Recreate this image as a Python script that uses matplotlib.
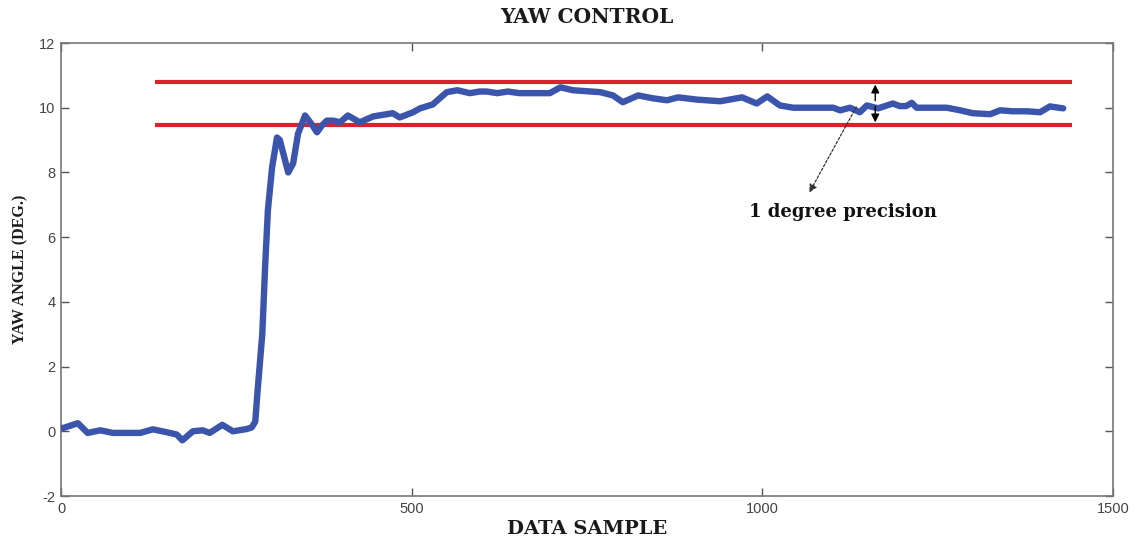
import matplotlib
matplotlib.use("Agg")
import matplotlib.pyplot as plt

plt.rcParams["axes.unicode_minus"] = False

# Data
sample = [0, 3, 24, 38, 56, 74, 113, 131, 151, 165, 173, 188, 202, 212, 230, 245, 265, 272, 277, 280,
          287, 291, 295, 301, 308, 312, 324, 331, 338, 348, 357, 365, 372, 379, 388, 398, 409, 426, 445, 473,
          483, 502, 512, 530, 550, 565, 583, 597, 607, 622, 637, 654, 697, 712, 730, 769, 787, 801, 823, 844,
          864, 880, 907, 940, 971, 992, 1007, 1025, 1044, 1101, 1111, 1125, 1139, 1149, 1165, 1186, 1196, 1205,
          1213, 1220, 1235, 1263, 1282, 1300, 1325, 1339, 1357, 1377, 1396, 1410, 1429]
yaw = [0.1, 0.1, 0.25, -0.05, 0.03, -0.05, -0.05, 0.06, -0.03, -0.1, -0.28, 0.0, 0.03, -0.05, 0.2, 0.0, 0.07, 0.12, 0.3, 1.17,
       3.0, 5.07, 6.83, 8.16, 9.08, 9.0, 8.0, 8.28, 9.2, 9.76, 9.5, 9.24, 9.45, 9.6, 9.6, 9.55, 9.76, 9.55, 9.73, 9.83,
       9.7, 9.86, 9.98, 10.1, 10.48, 10.54, 10.45, 10.5, 10.5, 10.45, 10.5, 10.45, 10.45, 10.63, 10.54, 10.48, 10.38, 10.17, 10.38, 10.29,
       10.23, 10.32, 10.25, 10.2, 10.32, 10.13, 10.35, 10.07, 10.0, 10.0, 9.92, 10.0, 9.86, 10.07, 9.98, 10.13, 10.05, 10.05,
       10.15, 10.0, 10.0, 10.0, 9.92, 9.83, 9.8, 9.92, 9.89, 9.89, 9.86, 10.04, 9.98]

band_upper = 10.8
band_lower = 9.46
band_start = 134
band_end = 1441

x_ticks = [0, 500, 1000, 1500]
y_ticks = [-2, 0, 2, 4, 6, 8, 10, 12]

title = "YAW CONTROL"
xlabel = "DATA SAMPLE"
ylabel = "YAW ANGLE (DEG.)"
note = "1 degree precision"
arrow_x = 1161
note_xy = (1115, 6.77)
note_arrow_tail = (1136, 10.1)
note_arrow_head = (1065, 7.3)

fig = plt.figure(figsize=(11.35, 5.4), dpi=100)
ax = fig.add_axes([61 / 1135, 1 - 496 / 540, (1113 - 61) / 1135, (496 - 43) / 540])

ax.plot(sample, yaw, color="#3a55ab", linewidth=4.6, solid_capstyle="round", solid_joinstyle="round", zorder=3)
ax.hlines([band_upper, band_lower], band_start, band_end, colors="#d8232a", linewidth=3.0, zorder=2)

# double-headed arrow between the band lines
mid = (band_upper + band_lower) / 2
ax.annotate("", xy=(arrow_x, band_upper), xytext=(arrow_x, mid),
            arrowprops=dict(arrowstyle="-|>", color="black", lw=1.0, mutation_scale=12), zorder=4)
ax.annotate("", xy=(arrow_x, band_lower), xytext=(arrow_x, mid),
            arrowprops=dict(arrowstyle="-|>", color="black", lw=1.0, mutation_scale=12), zorder=4)
ax.annotate("", xy=note_arrow_head, xytext=note_arrow_tail,
            arrowprops=dict(arrowstyle="-|>", color="#333333", lw=0.9, linestyle=(0, (2, 1.5)),
                            mutation_scale=12), zorder=4)
ax.text(note_xy[0], note_xy[1], note, ha="center", va="center", fontsize=13,
        fontweight="bold", family="DejaVu Serif", color="#111111")

ax.set_xlim(0, 1500)
ax.set_ylim(-2, 12)
ax.set_xticks(x_ticks)
ax.set_yticks(y_ticks)
ax.tick_params(direction="in", top=True, right=True, length=6, width=1.0,
               color="#555555", labelcolor="#444444", labelsize=10.5, pad=4)
for lab in ax.get_xticklabels() + ax.get_yticklabels():
    lab.set_family("Liberation Sans")
for s in ax.spines.values():
    s.set_color("#777777")
    s.set_linewidth(1.2)

fig.text((61 + 1113) / 2 / 1135, 1 - 17 / 540, title, ha="center", va="center",
         fontsize=14.5, fontweight="bold", family="DejaVu Serif", color="#1a1a1a")
ax.set_xlabel(xlabel, fontsize=14, fontweight="bold", family="DejaVu Serif", labelpad=3, color="#1a1a1a")
ax.set_ylabel(ylabel, fontsize=11.5, fontweight="bold", family="Liberation Serif", labelpad=8, color="#1a1a1a")

fig.savefig("out.png", dpi=100)
